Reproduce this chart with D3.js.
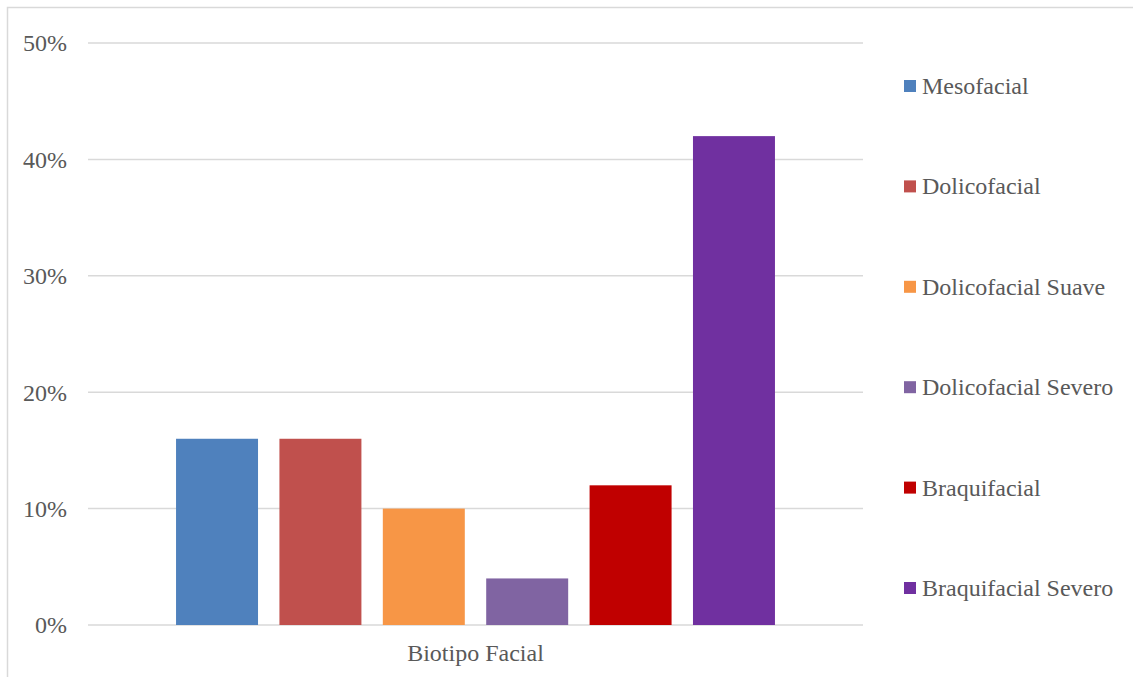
<!DOCTYPE html>
<html><head><meta charset="utf-8">
<script src="https://cdn.jsdelivr.net/npm/d3@7"></script>
<style>body{margin:0;background:#fff;} svg{display:block;}</style>
</head><body>
<svg id="c" width="1133" height="677"></svg>
<script>
const category = "Biotipo Facial";
const seriesNames = ["Mesofacial","Dolicofacial","Dolicofacial Suave","Dolicofacial Severo","Braquifacial","Braquifacial Severo"];
const seriesValues = [0.16,0.16,0.10,0.04,0.12,0.42];
const seriesColors = ["#4F81BD","#C0504D","#F79646","#8064A2","#C00000","#7030A0"];
const yTicks = [0,0.1,0.2,0.3,0.4,0.5];

(function(){
const svg = d3.select("#c");
const txt = "#595959";
const FF = '"Liberation Serif"';
const FS = "24px";

// outer border
svg.append("rect").attr("x",7.5).attr("y",7.5).attr("width",1140).attr("height",700)
  .attr("fill","none").attr("stroke","#d9d9d9").attr("stroke-width",1.5);

const pl=88, pr=863, pt=43, pb=625;
const y = d3.scaleLinear().domain([0,0.5]).range([pb,pt]);
const x0 = d3.scaleBand().domain([category]).range([pl,pr]).paddingInner(0).paddingOuter(0.147);
const x1 = d3.scaleBand().domain(seriesNames).range([x0(category), x0(category)+x0.bandwidth()]).paddingInner(0.207).paddingOuter(0);

// gridlines
svg.append("g").selectAll("line").data(yTicks).join("line")
  .attr("x1",pl).attr("x2",pr).attr("y1",d=>y(d)).attr("y2",d=>y(d))
  .attr("stroke","#d9d9d9").attr("stroke-width",1.5);

// y axis labels
const yAxis = d3.axisLeft(y).tickValues(yTicks).tickFormat(d3.format(".0%")).tickSize(0).tickPadding(0);
const ya = svg.append("g").attr("transform",`translate(67,0)`).call(yAxis);
ya.select(".domain").remove();
ya.selectAll("text").style("font-family",FF).style("font-size",FS).attr("fill",txt).attr("dy","0.33em");

// bars
svg.append("g").selectAll("rect").data(seriesNames).join("rect")
  .attr("x",d=>x1(d)).attr("width",x1.bandwidth())
  .attr("y",(d,i)=>y(seriesValues[i])).attr("height",(d,i)=>pb-y(seriesValues[i]))
  .attr("fill",(d,i)=>seriesColors[i]);

// x axis label
const xAxis = d3.axisBottom(x0).tickSize(0).tickPadding(0);
const xa = svg.append("g").attr("transform",`translate(0,${pb})`).call(xAxis);
xa.select(".domain").remove();
xa.selectAll("text").style("font-family",FF).style("font-size",FS).attr("fill",txt).attr("dy","1.5em").attr("y",0);

// legend
const ly = d3.scalePoint().domain(seriesNames).range([86,588]);
const lg = svg.append("g").selectAll("g").data(seriesNames).join("g")
  .attr("transform",d=>`translate(904,${ly(d)})`);
lg.append("rect").attr("x",0).attr("y",-6).attr("width",12).attr("height",12).attr("fill",(d,i)=>seriesColors[i]);
lg.append("text").attr("x",18).attr("y",0).attr("dy","0.33em").text(d=>d)
  .style("font-family",FF).style("font-size",FS).attr("fill",txt);
})();
</script>
</body></html>
